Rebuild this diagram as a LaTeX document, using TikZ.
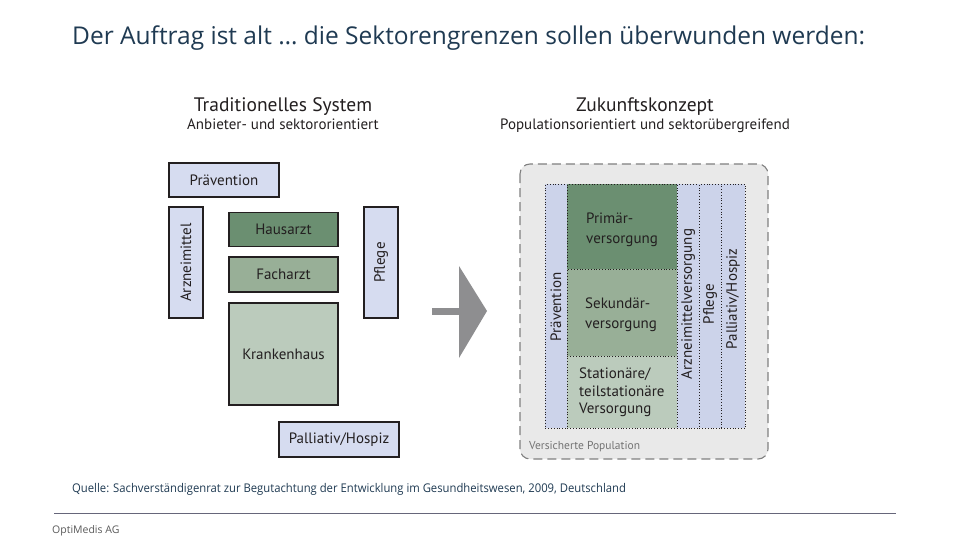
\documentclass[tikz,border=0pt]{standalone}
\usepackage{fontspec}
\setmainfont{Open Sans}
\newfontfamily\diag{PT Sans}
\definecolor{titleblue}{HTML}{1F3A52}
\definecolor{lav}{HTML}{D6DCF0}
\definecolor{lavcol}{HTML}{CCD3EA}
\definecolor{gdark}{HTML}{6B8F71}
\definecolor{gmid}{HTML}{98AF97}
\definecolor{glight}{HTML}{BBCBBC}
\definecolor{arrowgray}{HTML}{8E8E90}
\definecolor{panel}{HTML}{E9E9E9}
\definecolor{ink}{HTML}{231F20}
\tikzset{
  oldbox/.style={draw=ink, line width=1.5pt, inner sep=0pt, font=\diag\fontsize{15}{17}\selectfont, text=ink},
  colbox/.style={draw=ink, line width=0.8pt, dash pattern=on 0.8pt off 2pt, inner sep=0pt},
  coltext/.style={rotate=90, font=\diag\fontsize{15}{17}\selectfont, text=ink, inner sep=0pt},
  greentext/.style={align=left, anchor=north west, font=\diag\fontsize{15}{20}\selectfont, text=ink, inner sep=0pt},
  headA/.style={font=\diag\fontsize{19.5}{22}\selectfont, text=ink, inner sep=0pt},
  headB/.style={font=\diag\fontsize{15}{17}\selectfont, text=ink, inner sep=0pt}
}
\begin{document}
\begin{tikzpicture}[x=1pt,y=-1pt]
\useasboundingbox (0,0) rectangle (960,540);
% title
\node[anchor=base west, inner sep=0pt, text=titleblue, font=\fontsize{24.5}{28}\selectfont] (title) at (72,45) {Der Auftrag ist alt … die Sektorengrenzen sollen überwunden werden:};

% left headings
\node[headA, anchor=base] (lhA) at (283,112) {Traditionelles System};
\node[headB, anchor=base] (lhB) at (283,130) {Anbieter- und sektororientiert};

% left boxes
\node[oldbox, fill=lav, minimum width=110, minimum height=34] (prae) at (224,180) {Prävention};
\node[oldbox, fill=lav, minimum width=34, minimum height=111] (arz) at (186,262.5) {};
\node[coltext] (arzt) at (186,262.5) {Arzneimittel};
\node[oldbox, fill=gdark, minimum width=109, minimum height=34] (haus) at (283.5,229.5) {Hausarzt};
\node[oldbox, fill=gmid, minimum width=109, minimum height=35] (fach) at (283.5,274.5) {Facharzt};
\node[oldbox, fill=glight, minimum width=109, minimum height=102] (kh) at (283.5,354) {Krankenhaus};
\node[oldbox, fill=lav, minimum width=34, minimum height=111] (pfl) at (381,262.5) {};
\node[coltext] (pflt) at (381,262.5) {Pflege};
\node[oldbox, fill=lav, minimum width=120, minimum height=35] (pal) at (339,439.5) {Palliativ/Hospiz};

% arrow
\fill[arrowgray] (432,308) rectangle (460,315);
\fill[arrowgray] (459,266) -- (487,311) -- (459,358) -- cycle;

% right headings
\node[headA, anchor=base] (rhA) at (645,112) {Zukunftskonzept};
\node[headB, anchor=base] (rhB) at (645,130) {Populationsorientiert und sektorübergreifend};

% panel
\draw[fill=panel, draw=black!50, line width=1.1pt, dash pattern=on 9pt off 5pt, rounded corners=10pt] (520,164) rectangle (768,459);
\node[anchor=base west, inner sep=0pt, text=black!55, font=\diag\fontsize{11.5}{13}\selectfont] (vers) at (529,449) {Versicherte Population};

% columns
\node[colbox, fill=lavcol, anchor=north west, minimum width=22, minimum height=244] (cprae) at (545,184) {};
\node[colbox, fill=gdark, anchor=north west, minimum width=110, minimum height=85] (cprim) at (567,184) {};
\node[colbox, fill=gmid, anchor=north west, minimum width=110, minimum height=87] (csek) at (567,269) {};
\node[colbox, fill=glight, anchor=north west, minimum width=110, minimum height=72] (cstat) at (567,356) {};
\node[colbox, fill=lavcol, anchor=north west, minimum width=22, minimum height=244] (carz) at (677,184) {};
\node[colbox, fill=lavcol, anchor=north west, minimum width=22, minimum height=244] (cpfl) at (699,184) {};
\node[colbox, fill=lavcol, anchor=north west, minimum width=24, minimum height=244] (cpal) at (721,184) {};

\node[coltext] (tprae) at (556,307) {Prävention};
\node[coltext] (tarz) at (688,304) {Arzneimittelversorgung};
\node[coltext] (tpfl) at (710,304) {Pflege};
\node[coltext] (tpal) at (733,299) {Palliativ/Hospiz};

\node[greentext] (tprim) at (586,213) {Primär-\\versorgung};
\node[greentext] (tsek) at (585,298) {Sekundär-\\versorgung};
\node[greentext, font=\diag\fontsize{15}{17.5}\selectfont] (tstat) at (579,368) {Stationäre/\\teilstationäre\\Versorgung};

% footer
\node[anchor=base west, inner sep=0pt, text=titleblue, font=\fontsize{12}{14}\selectfont] (quelle) at (72,492) {\scalebox{0.94}[1]{Quelle: Sachverständigenrat zur Begutachtung der Entwicklung im Gesundheitswesen, 2009, Deutschland}};
\coordinate (l1) at (54,513);
\coordinate (l2) at (896,513);
\draw[draw=black!60!blue!20!gray, line width=0.8pt] (l1) -- (l2);
\node[anchor=base west, inner sep=0pt, text=black!65, font=\fontsize{10.5}{12}\selectfont] (opti) at (52,533) {OptiMedis AG};
\end{tikzpicture}
\end{document}
